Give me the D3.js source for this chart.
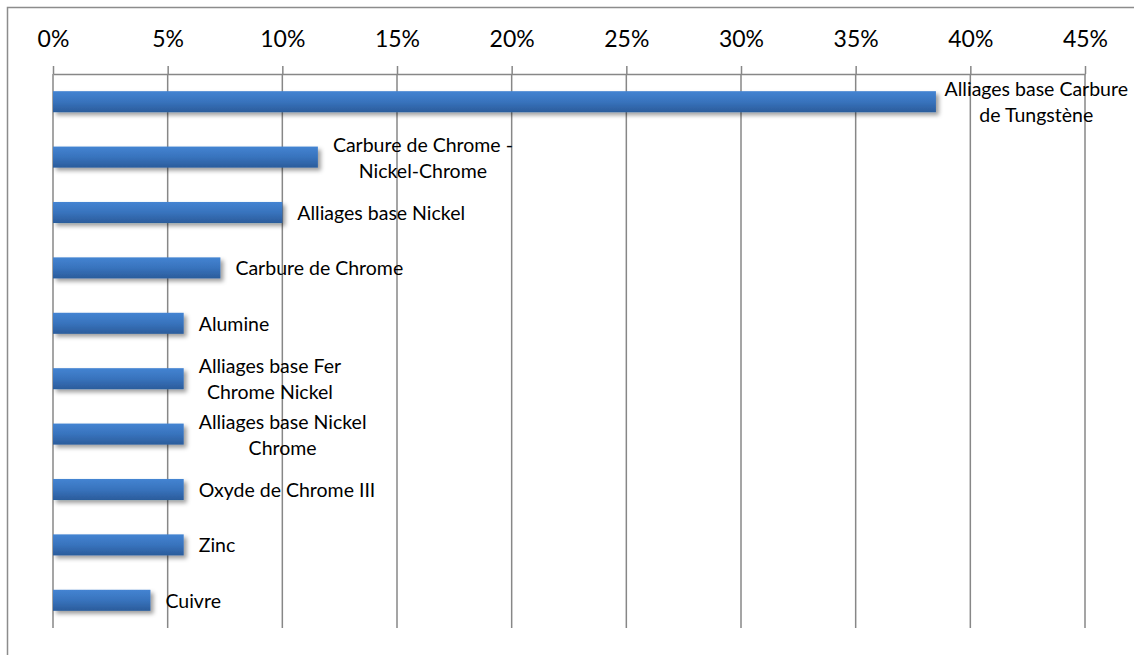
<!DOCTYPE html>
<html><head><meta charset="utf-8">
<script src="https://cdn.jsdelivr.net/npm/d3@7"></script>
<style>html,body{margin:0;padding:0;background:#fff;overflow:hidden}</style>
</head><body>
<svg id="chart" width="1134" height="655"></svg>
<script>
const categories = [
  ["Alliages base Carbure", "de Tungstène"],
  ["Carbure de Chrome -", "Nickel-Chrome"],
  ["Alliages base Nickel"],
  ["Carbure de Chrome"],
  ["Alumine"],
  ["Alliages base Fer", "Chrome Nickel"],
  ["Alliages base Nickel", "Chrome"],
  ["Oxyde de Chrome III"],
  ["Zinc"],
  ["Cuivre"]
];
const values = [38.5, 11.55, 10.0, 7.3, 5.7, 5.7, 5.7, 5.7, 5.7, 4.25];
const tickValues = [0, 5, 10, 15, 20, 25, 30, 35, 40, 45];

(function(){
const svg = d3.select("#chart");
const FONT = "Lato, 'Open Sans', sans-serif";
const pLeft = 53, pRight = 1085, pTop = 74, pBottom = 628;

const defs = svg.append("defs");
const grad = defs.append("linearGradient").attr("id","barGrad").attr("x1",0).attr("y1",0).attr("x2",0).attr("y2",1);
grad.append("stop").attr("offset","0%").attr("stop-color","#4484d2");
grad.append("stop").attr("offset","50%").attr("stop-color","#3873bd");
grad.append("stop").attr("offset","100%").attr("stop-color","#2b5c9b");
const filt = defs.append("filter").attr("id","shadow").attr("x","-5%").attr("y","-30%").attr("width","115%").attr("height","190%");
filt.append("feDropShadow").attr("dx",3).attr("dy",3).attr("stdDeviation",2.2).attr("flood-color","#000").attr("flood-opacity",0.38);

// outer border
svg.append("rect").attr("x",7.5).attr("y",7.5).attr("width",1140).attr("height",700)
  .attr("fill","none").attr("stroke","#8c8c8c").attr("stroke-width",1.5);

const x = d3.scaleLinear().domain([0,45]).range([pLeft,pRight]);
const y = d3.scaleBand().domain(d3.range(categories.length)).range([pTop,pBottom]).paddingInner(0.62).paddingOuter(0.31);

// gridlines
svg.append("g").selectAll("line").data(tickValues).join("line")
  .attr("x1",d=>x(d)).attr("x2",d=>x(d)).attr("y1",pTop).attr("y2",pBottom)
  .attr("stroke","#878787").attr("stroke-width",1.5);

// top axis
const axis = d3.axisTop(x).tickValues(tickValues).tickFormat(d=>d+"%").tickSize(8).tickSizeOuter(0).tickPadding(19);
const ag = svg.append("g").attr("transform",`translate(0,${pTop})`).call(axis);
ag.select(".domain").attr("stroke","#878787").attr("stroke-width",1.5);
ag.selectAll(".tick line").attr("stroke","#878787").attr("stroke-width",1.5);
ag.selectAll(".tick text").attr("font-family",FONT).attr("font-size",23).attr("fill","#000");

// bars
svg.append("g").selectAll("rect").data(values).join("rect")
  .attr("x",x(0)).attr("y",(d,i)=>y(i)).attr("width",d=>x(d)-x(0)).attr("height",y.bandwidth())
  .attr("fill","url(#barGrad)").attr("filter","url(#shadow)");

// labels
const lg = svg.append("g").attr("font-family",FONT).attr("font-size",19.5).attr("fill","#000");
categories.forEach((lines,i)=>{
  const cy = y(i)+y.bandwidth()/2;
  const t = lg.append("text").attr("text-anchor","middle");
  const tsp = lines.map((ln,k)=>t.append("tspan").text(ln)
     .attr("y", cy + 7.5 + (k-(lines.length-1)/2)*26));
  const w = d3.max(tsp, s=>s.node().getComputedTextLength());
  let x0 = x(values[i]) + 15;
  if (x0 + w > 1128) x0 = Math.max(x(values[i]) + 8, 1128 - w);
  tsp.forEach(s=>s.attr("x", x0 + w/2));
});
})();
</script>
</body></html>
